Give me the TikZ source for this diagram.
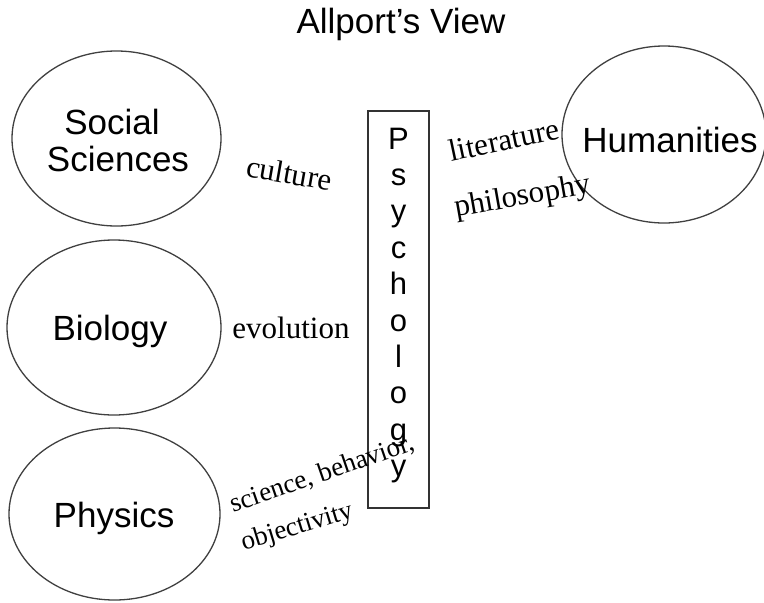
\documentclass[tikz,border=0pt]{standalone}
\usepackage{fontspec}
\setmainfont{Liberation Serif}
\setsansfont{Liberation Sans}
\usetikzlibrary{shapes.geometric}
\begin{document}
\begin{tikzpicture}[x=1pt,y=-1pt,
  oval/.style={draw=black!75, line width=1.3pt, ellipse, inner sep=0pt},
  psybox/.style={draw=black!80, line width=1.3pt, rectangle, inner sep=0pt, minimum width=61pt, minimum height=397pt},
  sanslabel/.style={font=\sffamily\fontsize{35}{40}\selectfont, anchor=base, inner sep=0pt},
  letterlabel/.style={font=\sffamily\fontsize{31}{36}\selectfont, anchor=base, inner sep=0pt},
  linklabel/.style={font=\rmfamily\fontsize{31}{36}\selectfont, anchor=base, inner sep=0pt},
  smalllink/.style={font=\rmfamily\fontsize{27}{32}\selectfont, anchor=base, inner sep=0pt}
]
\useasboundingbox (0,0) rectangle (764,603);
\fill[white] (0,0) rectangle (764,603);

% title
\node[sanslabel] (title) at (401,33) {Allport\char"0027 s View};

% ellipses
\node[oval, minimum width=209pt, minimum height=175pt] (social) at (116.5,138.5) {};
\node[oval, minimum width=214pt, minimum height=175pt] (biology) at (114,327.5) {};
\node[oval, minimum width=211pt, minimum height=172pt] (physics) at (114.5,514) {};
\node[oval, minimum width=204pt, minimum height=177pt] (humanities) at (664,134.5) {};

% ellipse texts
\node[sanslabel] (socialA) at (112,134) {Social};
\node[sanslabel] (socialB) at (118,171) {Sciences};
\node[sanslabel] (biologyT) at (110,340) {Biology};
\node[sanslabel] (physicsT) at (114,527) {Physics};
\node[sanslabel] (humanitiesT) at (670,152) {Humanities};

% psychology box
\node[psybox] (psy) at (398.5,309.5) {};
\foreach \ch [count=\i from 0] in {P,s,y,c,h,o,l,o,g,y}
  \node[letterlabel] (L\i) at (398.5,{149+36.4*\i}) {\ch};

% link labels
\node[linklabel, rotate=-10] (culture) at (287.5,183.5) {culture};
\node[linklabel] (evolution) at (291,338) {evolution};
\node[linklabel, rotate=12] (literature) at (506,150) {literature};
\node[linklabel, rotate=10] (philosophy) at (524,205) {philosophy};
\node[smalllink, rotate=19] (science) at (325,481) {science, behavior,};
\node[smalllink, rotate=17] (objectivity) at (299,534) {objectivity};
\end{tikzpicture}
\end{document}
